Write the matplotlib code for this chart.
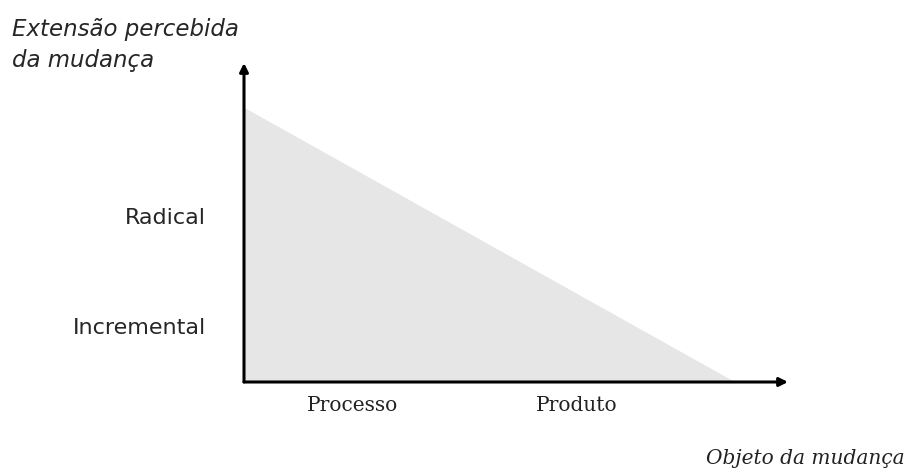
import matplotlib
matplotlib.use("Agg")
import matplotlib.pyplot as plt

# Data
x_extent = [0.0, 9.03]          # object of change axis (triangle span)
y_extent = [8.61, 0.0]          # perceived extent of change
x_tick_pos = [1.99, 6.12]
x_tick_labels = ["Processo", "Produto"]
y_tick_pos = [1.7, 5.14]
y_tick_labels = ["Incremental", "Radical"]
y_title = "Extensão percebida\nda mudança"
x_title = "Objeto da mudança"

W, H = 912, 473
fig = plt.figure(figsize=(W / 100, H / 100), dpi=100)
left, right = 244, 788
bottom, top = 382, 63
ax = fig.add_axes([left / W, 1 - bottom / H, (right - left) / W, (bottom - top) / H])
ax.set_xlim(0, 10)
ax.set_ylim(0, 10)
ax.axis("off")

ax.fill_between(x_extent, y_extent, 0, color="#e6e6e6", linewidth=0, zorder=1)

# axes arrows
for end in [(10, 0), (0, 10)]:
    ax.annotate("", xy=end, xytext=(0, 0), xycoords="data",
                arrowprops=dict(arrowstyle="-|>,head_length=0.5,head_width=0.25", color="black", lw=2.2,
                                shrinkA=0, shrinkB=0), zorder=3)

for p, lab in zip(x_tick_pos, x_tick_labels):
    ax.text(p, -0.75, lab, ha="center", va="center", fontsize=14.5,
            family="DejaVu Serif", color="#222222")
for p, lab in zip(y_tick_pos, y_tick_labels):
    ax.text(-0.7, p, lab, ha="right", va="center", fontsize=16,
            family="DejaVu Sans", color="#262626")

fig.text(12 / W, 1 - 45 / H, y_title, ha="left", va="center", fontsize=16.5,
         family="DejaVu Sans", style="italic", color="#262626", linespacing=1.45)
fig.text(905 / W, 1 - 458 / H, x_title, ha="right", va="center", fontsize=14.5,
         family="DejaVu Serif", style="italic", color="#222222")

fig.savefig("out.png", dpi=100, facecolor="white")
